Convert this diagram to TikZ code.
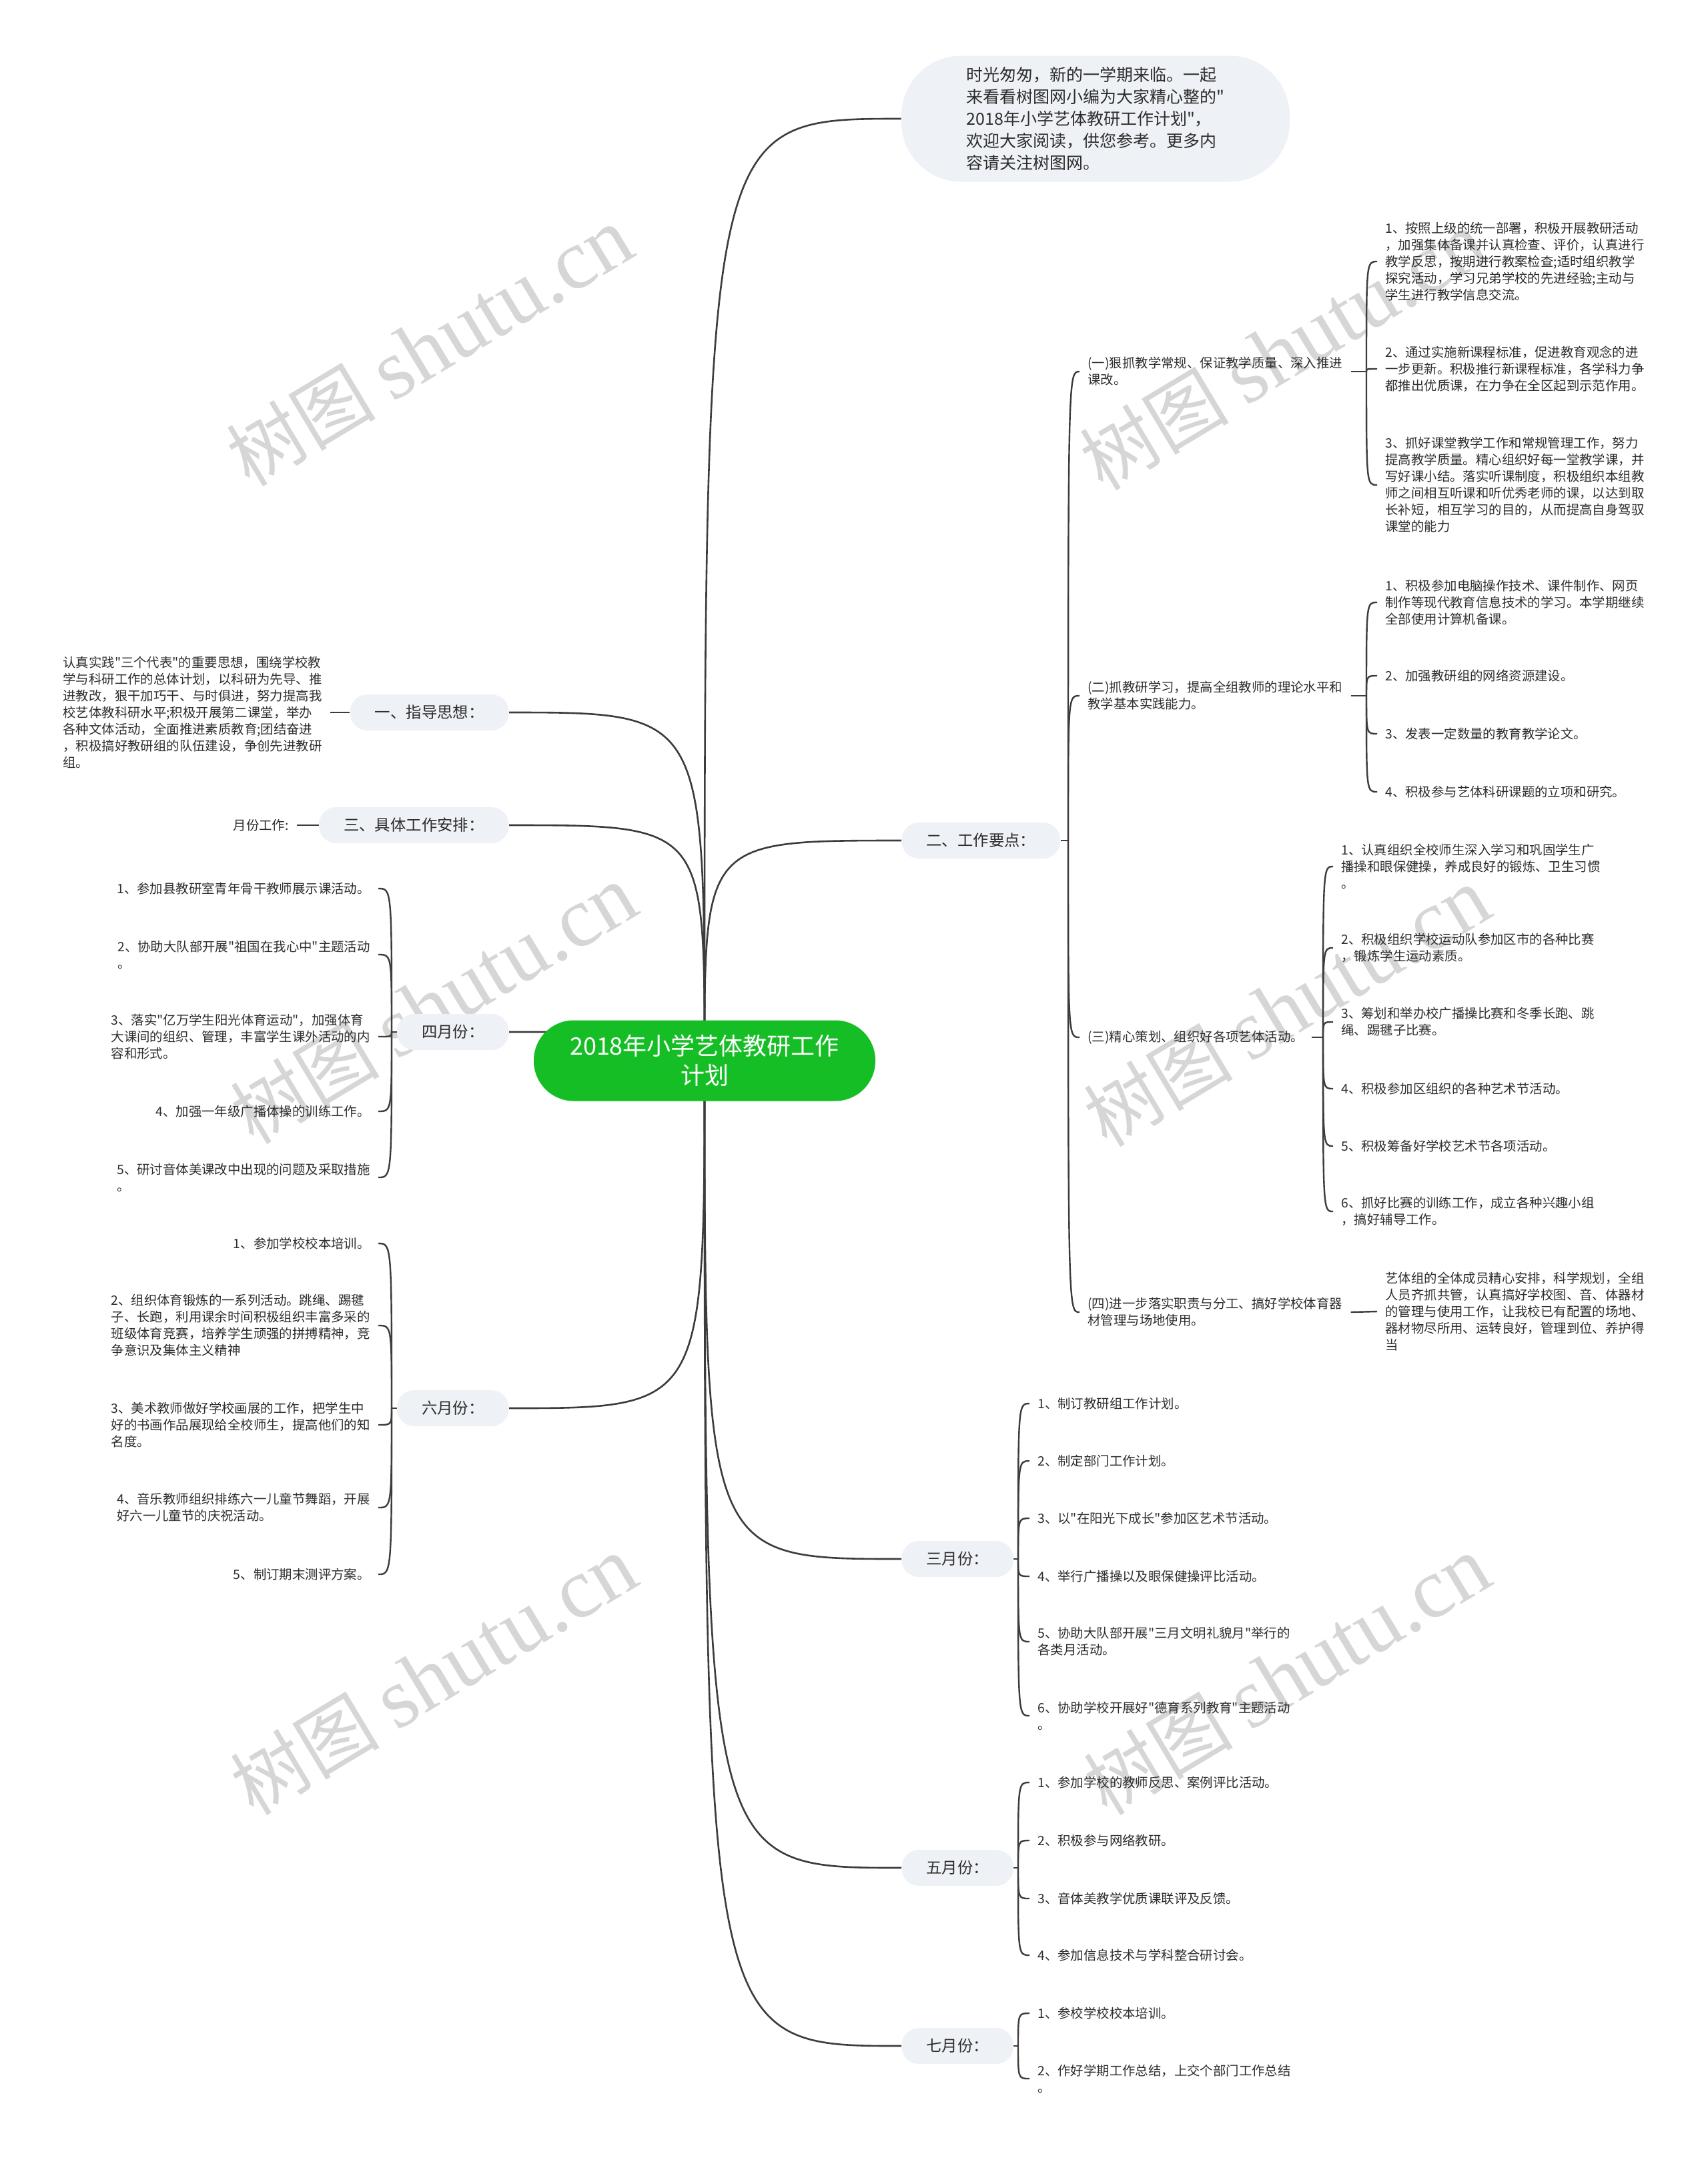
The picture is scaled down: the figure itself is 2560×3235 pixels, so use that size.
\documentclass[tikz,border=0pt]{standalone}
\usepackage{fontspec}
\setmainfont{Noto Sans CJK SC}[Ligatures=TeXOff]
\newfontfamily\wmcjk{Noto Sans CJK SC}
\newfontfamily\wmlatin{Liberation Serif}
\usetikzlibrary{calc}
\pgfdeclarelayer{wmlayer}
\pgfdeclarelayer{linelayer}
\pgfsetlayers{wmlayer,linelayer,main}
\definecolor{rootgreen}{RGB}{22,190,38}
\definecolor{pillfill}{RGB}{238,241,245}
\definecolor{inkc}{RGB}{45,45,45}
\definecolor{linec}{RGB}{60,60,60}
\definecolor{wmc}{RGB}{214,214,214}
\tikzset{
  leaf/.style={align=left, inner xsep=6pt, inner ysep=2pt, text=inkc, font=\fontsize{9.7pt}{12.5pt}\selectfont},
  pill/.style={fill=pillfill, rounded corners=13pt, inner xsep=18.5pt, minimum height=27pt, text=inkc, font=\fontsize{11.7pt}{14pt}\selectfont},
  rootnode/.style={fill=rootgreen, rounded corners=30pt, minimum width=256pt, minimum height=60.5pt, align=center, text=white, font=\fontsize{18pt}{22pt}\selectfont},
  intronode/.style={fill=pillfill, rounded corners=45pt, minimum width=291pt, minimum height=94.5pt, align=left, text=inkc, font=\fontsize{12.5pt}{16.5pt}\selectfont},
  conn/.style={draw=linec, line width=1.3pt},
  brk/.style={draw=linec, line width=1.2pt},
  wmark/.style={rotate=31, text=wmc, inner sep=0pt}
}
\begin{document}
\begin{tikzpicture}[x=0.5pt, y=-0.5pt]
\useasboundingbox (0,0) rectangle (2560,3235);
\begin{pgfonlayer}{wmlayer}
\fill[white] (0,0) rectangle (2560,3235);
\foreach \p in {(644,520),(1923,526),(650,1506),(1929,1510),(650,2512),(1929,2512)}
  \node[wmark] at \p {\wmcjk\fontsize{56pt}{56pt}\selectfont 树图 \wmlatin\fontsize{64pt}{64pt}\selectfont shutu.cn};
\end{pgfonlayer}

% root and intro
\node[rootnode] (root) at (1056,1590) {2018年小学艺体教研工作\\计划};
\node[intronode] (intro) at (1642,178) {时光匆匆，新的一学期来临。一起\\来看看树图网小编为大家精心整的"\\2018年小学艺体教研工作计划"，\\欢迎大家阅读，供您参考。更多内\\容请关注树图网。};

% right pills
\node[pill, anchor=west] (w2) at (1351,1260) {二、工作要点：};
\node[pill, anchor=west] (m3) at (1351,2337) {三月份：};
\node[pill, anchor=west] (m5) at (1351,2800) {五月份：};
\node[pill, anchor=west] (m7) at (1351,3067) {七月份：};
% left pills
\node[pill, anchor=east] (l1) at (763,1068) {一、指导思想：};
\node[pill, anchor=east] (l3) at (763,1237) {三、具体工作安排：};
\node[pill, anchor=east] (l4) at (763,1547) {四月份：};
\node[pill, anchor=east] (l6) at (763,2111) {六月份：};

% 二 children
\node[leaf, anchor=west] (s1) at (1618,557) {(一)狠抓教学常规、保证教学质量、深入推进\\课改。};
\node[leaf, anchor=west] (s2) at (1618,1043) {(二)抓教研学习，提高全组教师的理论水平和\\教学基本实践能力。};
\node[leaf, anchor=west] (s3) at (1618,1555) {(三)精心策划、组织好各项艺体活动。};
\node[leaf, anchor=west] (s4) at (1618,1967) {(四)进一步落实职责与分工、搞好学校体育器\\材管理与场地使用。};

\node[leaf, anchor=west] (s1a) at (2064,392) {1、按照上级的统一部署，积极开展教研活动\\，加强集体备课并认真检查、评价，认真进行\\教学反思，按期进行教案检查;适时组织教学\\探究活动，学习兄弟学校的先进经验;主动与\\学生进行教学信息交流。};
\node[leaf, anchor=west] (s1b) at (2064,553) {2、通过实施新课程标准，促进教育观念的进\\一步更新。积极推行新课程标准，各学科力争\\都推出优质课，在力争在全区起到示范作用。};
\node[leaf, anchor=west] (s1c) at (2064,727) {3、抓好课堂教学工作和常规管理工作，努力\\提高教学质量。精心组织好每一堂教学课，并\\写好课小结。落实听课制度，积极组织本组教\\师之间相互听课和听优秀老师的课，以达到取\\长补短，相互学习的目的，从而提高自身驾驭\\课堂的能力};

\node[leaf, anchor=west] (s2a) at (2064,903) {1、积极参加电脑操作技术、课件制作、网页\\制作等现代教育信息技术的学习。本学期继续\\全部使用计算机备课。};
\node[leaf, anchor=west] (s2b) at (2064,1013) {2、加强教研组的网络资源建设。};
\node[leaf, anchor=west] (s2c) at (2064,1100) {3、发表一定数量的教育教学论文。};
\node[leaf, anchor=west] (s2d) at (2064,1187) {4、积极参与艺体科研课题的立项和研究。};

\node[leaf, anchor=west] (s3a) at (1998,1299) {1、认真组织全校师生深入学习和巩固学生广\\播操和眼保健操，养成良好的锻炼、卫生习惯\\。};
\node[leaf, anchor=west] (s3b) at (1998,1421) {2、积极组织学校运动队参加区市的各种比赛\\，锻炼学生运动素质。};
\node[leaf, anchor=west] (s3c) at (1998,1532) {3、筹划和举办校广播操比赛和冬季长跑、跳\\绳、踢毽子比赛。};
\node[leaf, anchor=west] (s3d) at (1998,1632) {4、积极参加区组织的各种艺术节活动。};
\node[leaf, anchor=west] (s3e) at (1998,1718) {5、积极筹备好学校艺术节各项活动。};
\node[leaf, anchor=west] (s3f) at (1998,1816) {6、抓好比赛的训练工作，成立各种兴趣小组\\，搞好辅导工作。};

\node[leaf, anchor=west] (s4a) at (2064,1966) {艺体组的全体成员精心安排，科学规划，全组\\人员齐抓共管，认真搞好学校图、音、体器材\\的管理与使用工作，让我校已有配置的场地、\\器材物尽所用、运转良好，管理到位、养护得\\当};

% 三月份 children
\node[leaf, anchor=west] (m3a) at (1543,2104) {1、制订教研组工作计划。};
\node[leaf, anchor=west] (m3b) at (1543,2190) {2、制定部门工作计划。};
\node[leaf, anchor=west] (m3c) at (1543,2276) {3、以"在阳光下成长"参加区艺术节活动。};
\node[leaf, anchor=west] (m3d) at (1543,2363) {4、举行广播操以及眼保健操评比活动。};
\node[leaf, anchor=west] (m3e) at (1543,2461) {5、协助大队部开展"三月文明礼貌月"举行的\\各类月活动。};
\node[leaf, anchor=west] (m3f) at (1543,2572) {6、协助学校开展好"德育系列教育"主题活动\\。};
% 五月份 children
\node[leaf, anchor=west] (m5a) at (1543,2672) {1、参加学校的教师反思、案例评比活动。};
\node[leaf, anchor=west] (m5b) at (1543,2759) {2、积极参与网络教研。};
\node[leaf, anchor=west] (m5c) at (1543,2846) {3、音体美教学优质课联评及反馈。};
\node[leaf, anchor=west] (m5d) at (1543,2931) {4、参加信息技术与学科整合研讨会。};
% 七月份 children
\node[leaf, anchor=west] (m7a) at (1543,3018) {1、参校学校校本培训。};
\node[leaf, anchor=west] (m7b) at (1543,3116) {2、作好学期工作总结，上交个部门工作总结\\。};

% left children
\node[leaf, anchor=west] (l1c) at (82,1068) {认真实践"三个代表"的重要思想，围绕学校教\\学与科研工作的总体计划，以科研为先导、推\\进教改，狠干加巧干、与时俱进，努力提高我\\校艺体教科研水平;积极开展第二课堂，举办\\各种文体活动，全面推进素质教育;团结奋进\\，积极搞好教研组的队伍建设，争创先进教研\\组。};
\node[leaf, anchor=east] (l3c) at (445,1237) {月份工作:};

\node[leaf, anchor=east] (a1) at (567,1332) {1、参加县教研室青年骨干教师展示课活动。};
\node[leaf, anchor=east] (a2) at (567,1431) {2、协助大队部开展"祖国在我心中"主题活动\\。};
\node[leaf, anchor=east] (a3) at (567,1554) {3、落实"亿万学生阳光体育运动"，加强体育\\大课间的组织、管理，丰富学生课外活动的内\\容和形式。};
\node[leaf, anchor=east] (a4) at (567,1666) {4、加强一年级广播体操的训练工作。};
\node[leaf, anchor=east] (a5) at (567,1765) {5、研讨音体美课改中出现的问题及采取措施\\。};

\node[leaf, anchor=east] (j1) at (567,1864) {1、参加学校校本培训。};
\node[leaf, anchor=east] (j2) at (567,1987) {2、组织体育锻炼的一系列活动。跳绳、踢毽\\子、长跑，利用课余时间积极组织丰富多采的\\班级体育竞赛，培养学生顽强的拼搏精神，竞\\争意识及集体主义精神};
\node[leaf, anchor=east] (j3) at (567,2136) {3、美术教师做好学校画展的工作，把学生中\\好的书画作品展现给全校师生，提高他们的知\\名度。};
\node[leaf, anchor=east] (j4) at (567,2260) {4、音乐教师组织排练六一儿童节舞蹈，开展\\好六一儿童节的庆祝活动。};
\node[leaf, anchor=east] (j5) at (567,2360) {5、制订期末测评方案。};

% bracket coordinates
\coordinate (b2) at (1601,1260);
\coordinate (bs1) at (2048,557);
\coordinate (bs2) at (2048,1043);
\coordinate (bs3) at (1983,1555);
\coordinate (bm3) at (1526,2337);
\coordinate (bm5) at (1526,2800);
\coordinate (bm7) at (1526,3067);
\coordinate (b4) at (587,1547);
\coordinate (b6) at (587,2111);

\begin{pgfonlayer}{linelayer}
\foreach \t in {intro,w2,m3,m5,m7}
  \draw[conn] (root.center) .. controls (root.center |- \t.west) .. (\t.west);
\foreach \t in {l1,l3,l4,l6}
  \draw[conn] (root.center) .. controls (root.center |- \t.east) .. (\t.east);

\draw[brk] (w2.east) -- (b2);
\foreach \c in {s1,s2,s3,s4}
  \draw[brk] (b2) .. controls (b2 |- \c.west) .. (\c.west);
\draw[brk] (s1.east) -- (bs1);
\foreach \c in {s1a,s1b,s1c}
  \draw[brk] (bs1) .. controls (bs1 |- \c.west) .. (\c.west);
\draw[brk] (s2.east) -- (bs2);
\foreach \c in {s2a,s2b,s2c,s2d}
  \draw[brk] (bs2) .. controls (bs2 |- \c.west) .. (\c.west);
\draw[brk] (s3.east) -- (bs3);
\foreach \c in {s3a,s3b,s3c,s3d,s3e,s3f}
  \draw[brk] (bs3) .. controls (bs3 |- \c.west) .. (\c.west);
\draw[brk] (s4.east) -- (s4a.west);

\draw[brk] (m3.east) -- (bm3);
\foreach \c in {m3a,m3b,m3c,m3d,m3e,m3f}
  \draw[brk] (bm3) .. controls (bm3 |- \c.west) .. (\c.west);
\draw[brk] (m5.east) -- (bm5);
\foreach \c in {m5a,m5b,m5c,m5d}
  \draw[brk] (bm5) .. controls (bm5 |- \c.west) .. (\c.west);
\draw[brk] (m7.east) -- (bm7);
\foreach \c in {m7a,m7b}
  \draw[brk] (bm7) .. controls (bm7 |- \c.west) .. (\c.west);

\draw[brk] (l1.west) -- (l1c.east);
\draw[brk] (l3.west) -- (l3c.east);
\draw[brk] (l4.west) -- (b4);
\foreach \c in {a1,a2,a3,a4,a5}
  \draw[brk] (b4) .. controls (b4 |- \c.east) .. (\c.east);
\draw[brk] (l6.west) -- (b6);
\foreach \c in {j1,j2,j3,j4,j5}
  \draw[brk] (b6) .. controls (b6 |- \c.east) .. (\c.east);
\end{pgfonlayer}
\end{tikzpicture}
\end{document}
